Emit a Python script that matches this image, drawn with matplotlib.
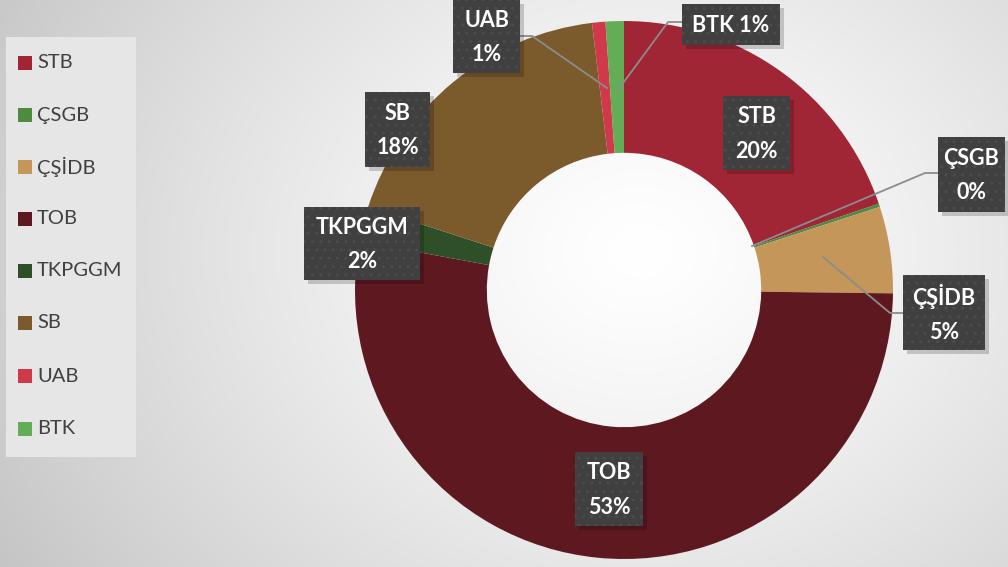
import numpy as np
import matplotlib
matplotlib.use("Agg")
import matplotlib.pyplot as plt
from matplotlib.patches import Rectangle

categories = ["STB", "ÇSGB", "ÇŞİDB", "TOB", "TKPGGM", "SB", "UAB", "BTK"]
values = [19.8, 0.2, 5.2, 52.7, 2.1, 18.1, 0.8, 1.1]
pct_labels = ["20%", "0%", "5%", "53%", "2%", "18%", "1%", "1%"]
colors = ["#A02535", "#4E8A40", "#C4965A", "#5E1820", "#2F4F28", "#7B5A2C", "#D0394A", "#63AD56"]

plt.rcParams["hatch.linewidth"] = 1.0

W, H = 1008, 567
fig = plt.figure(figsize=(W / 100, H / 100), dpi=100)
ax = fig.add_axes([0, 0, 1, 1])
ax.set_xlim(0, W)
ax.set_ylim(0, H)
ax.axis("off")

# radial background
yy, xx = np.mgrid[0:H, 0:W]
d = np.sqrt((xx - 640) ** 2 + ((yy - 250) * 1.2) ** 2)
t = np.clip(d / 750, 0, 1)
v = 1.0 - 0.23 * t ** 1.3
ax.imshow(np.dstack([v, v, v]), extent=[0, W, 0, H], origin="upper", zorder=0, aspect="auto")

def Y(py):
    return H - py

cx, cy, R = 624, Y(290), 269
ax.pie(values, colors=colors, startangle=90, counterclock=False, center=(cx, cy), radius=R,
       wedgeprops=dict(width=R * 0.49, edgecolor="none"), frame=True)
ax.set_xlim(0, W)
ax.set_ylim(0, H)
ax.set_aspect("auto")
ax.axis("off")

FONT = "Lato"

# legend
ax.add_patch(Rectangle((6, Y(457)), 130, 420, facecolor="#e6e6e6", edgecolor="none", zorder=2))
leg_y = [63, 115, 167, 219, 271, 323, 376, 429]
for cat, col, ly in zip(categories, colors, leg_y):
    ax.add_patch(Rectangle((18, Y(ly) - 7), 14, 14, facecolor=col, edgecolor="none", zorder=3))
    ax.text(37, Y(ly), cat, fontsize=14.5, color="#404040", va="center", ha="left",
            family=FONT, zorder=3)

# leader lines
leaders = [
    [(520, 36), (532, 36), (607, 88)],
    [(682, 22), (668, 22), (618, 90)],
    [(938, 173), (925, 173), (752, 246)],
    [(903, 313), (890, 313), (823, 257)],
]
for pts in leaders:
    xs = [p[0] for p in pts]
    ys = [Y(p[1]) for p in pts]
    ax.plot(xs, ys, color="#8c8c8c", lw=1.3, zorder=4)

# label boxes: (x0, y0, x1, y1) in pixels
boxes = {
    "STB": (723, 96, 790, 170),
    "ÇSGB": (938, 137, 1005, 212),
    "ÇŞİDB": (903, 275, 985, 350),
    "TOB": (575, 452, 643, 526),
    "TKPGGM": (304, 207, 420, 280),
    "SB": (365, 92, 430, 167),
    "UAB": (453, 0, 520, 73),
    "BTK": (682, 4, 780, 45),
}
lbl_map = {c: p for c, p in zip(categories, pct_labels)}
for cat in categories:
    x0, y0, x1, y1 = boxes[cat]
    txt = f"{cat} {lbl_map[cat]}" if cat == "BTK" else f"{cat}\n{lbl_map[cat]}"
    ax.add_patch(Rectangle((x0 + 4, Y(y1 + 4)), x1 - x0, y1 - y0, facecolor="#000000",
                           alpha=0.18, edgecolor="none", zorder=5))
    ax.add_patch(Rectangle((x0, Y(y1)), x1 - x0, y1 - y0, facecolor="#404040",
                           edgecolor="#4c4c4c", hatch="..", lw=0, zorder=6))
    ax.text((x0 + x1) / 2, Y((y0 + y1) / 2) - 1, txt, fontsize=15.5, fontweight="bold",
            color="white", ha="center", va="center", family=FONT, linespacing=1.8, zorder=7)

fig.savefig("out.png", dpi=100)
